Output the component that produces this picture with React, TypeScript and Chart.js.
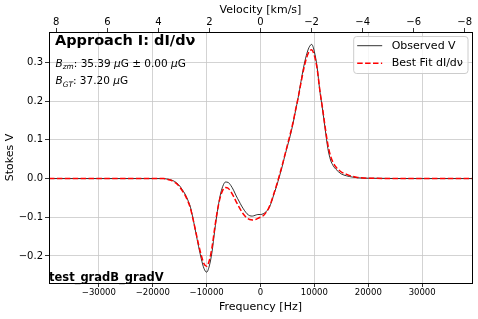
import React, { useEffect, useRef } from "react";
import { Chart, registerables } from "chart.js";

Chart.register(...registerables);

// ---------------- data ----------------
const FREQ_HZ = [
  -39250, -30000, -20000, -18000, -17500, -17000, -16500, -16000, -15500, -15000,
  -14500, -14000, -13500, -13000, -12500, -12000, -11500, -11000, -10500, -10000,
  -9500, -9000, -8500, -8000, -7500, -7000, -6500, -6000, -5500, -5000,
  -4500, -4000, -3500, -3000, -2500, -2000, -1500, -1000, -500, 0,
  500, 1000, 1500, 2000, 2500, 3000, 3500, 4000, 4500, 5000,
  5500, 6000, 6500, 7000, 7500, 8000, 8500, 9000, 9500, 10000,
  10500, 11000, 11500, 12000, 12500, 13000, 13500, 14000, 15000, 16000,
  17000, 18000, 20000, 30000, 39250,
];

const OBSERVED_V = [
  0, 0, 0, 0, -0.001, -0.002, -0.004, -0.007, -0.012, -0.019,
  -0.029, -0.040, -0.055, -0.074, -0.105, -0.140, -0.175, -0.207, -0.232, -0.242,
  -0.226, -0.190, -0.135, -0.085, -0.045, -0.020, -0.009, -0.010, -0.018, -0.030,
  -0.045, -0.058, -0.071, -0.082, -0.091, -0.096, -0.097, -0.095, -0.093, -0.093,
  -0.091, -0.086, -0.078, -0.062, -0.040, -0.019, 0.005, 0.030, 0.058, 0.084,
  0.110, 0.140, 0.175, 0.210, 0.250, 0.288, 0.318, 0.339, 0.347, 0.328,
  0.289, 0.228, 0.180, 0.128, 0.078, 0.048, 0.033, 0.024, 0.012, 0.007,
  0.004, 0.002, 0.001, 0, 0,
];

const FIT_V = [
  0, 0, 0, 0, -0.001, -0.003, -0.005, -0.009, -0.014, -0.022,
  -0.032, -0.043, -0.058, -0.077, -0.106, -0.138, -0.170, -0.198, -0.220, -0.227,
  -0.212, -0.178, -0.128, -0.083, -0.050, -0.030, -0.023, -0.025, -0.034, -0.046,
  -0.060, -0.073, -0.085, -0.095, -0.102, -0.106, -0.107, -0.106, -0.103, -0.100,
  -0.096, -0.088, -0.077, -0.060, -0.038, -0.016, 0.008, 0.033, 0.060, 0.087,
  0.114, 0.143, 0.177, 0.210, 0.247, 0.282, 0.310, 0.328, 0.333, 0.318,
  0.285, 0.230, 0.183, 0.133, 0.088, 0.058, 0.041, 0.030, 0.017, 0.011,
  0.006, 0.003, 0.001, 0, 0,
];

const SERIES_LABELS = ["Observed V", "Best Fit dI/d\u03bd"];
const FREQ_TICKS = [-30000, -20000, -10000, 0, 10000, 20000, 30000];
const VELOCITY_TICKS = [8, 6, 4, 2, 0, -2, -4, -6, -8];
const V_TICKS = [-0.2, -0.1, 0.0, 0.1, 0.2, 0.3];
const FREQ_MIN = -39250;
const FREQ_MAX = 39250;
const V_MIN = -0.27;
const V_MAX = 0.379;
const REST_FREQ_HZ = 1420405751.77;
const C_KMS = 299792.458;
const HZ_PER_KMS = REST_FREQ_HZ / C_KMS;

const TITLE_TEXT = "Approach I: dI/d\u03bd";
const B_ZM = "35.39";
const B_ZM_ERR = "0.00";
const B_GT = "37.20";
const RUN_LABEL = "test_gradB_gradV";

// ---------------- helpers ----------------
const FAM = '"DejaVu Sans", sans-serif';
const minus = (s: string) => s.replace("-", "\u2212");

type Seg = { t: string; font: string; dy?: number };
function drawRich(ctx: CanvasRenderingContext2D, x: number, y: number, segs: Seg[]) {
  let cx = x;
  for (const s of segs) {
    ctx.font = s.font;
    ctx.fillText(s.t, cx, y + (s.dy || 0));
    cx += ctx.measureText(s.t).width;
  }
}

const overlayPlugin = {
  id: "overlay",
  afterDraw(chart: any) {
    const { ctx, chartArea: a } = chart;
    ctx.save();
    // frame
    ctx.strokeStyle = "#000";
    ctx.lineWidth = 1;
    ctx.strokeRect(a.left + 0.5, a.top + 0.5, a.right - a.left, a.bottom - a.top);

    // annotations
    ctx.fillStyle = "#000";
    ctx.textBaseline = "alphabetic";
    ctx.textAlign = "left";
    ctx.font = `bold 14.5px ${FAM}`;
    ctx.fillText(TITLE_TEXT, a.left + 6, a.top + 12.8);

    const reg = `10.5px ${FAM}`;
    const ital = `italic 10.5px ${FAM}`;
    const sub = `italic 7.4px ${FAM}`;
    drawRich(ctx, a.left + 6.5, a.top + 34.7, [
      { t: "B", font: ital },
      { t: "zm", font: sub, dy: 2.4 },
      { t: `: ${B_ZM} `, font: reg },
      { t: "\u03bc", font: ital },
      { t: `G \u00b1 ${B_ZM_ERR} `, font: reg },
      { t: "\u03bc", font: ital },
      { t: "G", font: reg },
    ]);
    drawRich(ctx, a.left + 6.5, a.top + 52.3, [
      { t: "B", font: ital },
      { t: "GT", font: sub, dy: 2.4 },
      { t: `: ${B_GT} `, font: reg },
      { t: "\u03bc", font: ital },
      { t: "G", font: reg },
    ]);

    ctx.font = `bold 11.5px ${FAM}`;
    ctx.fillText(RUN_LABEL, a.left, a.bottom - 2);

    // legend
    const ds = chart.data.datasets;
    ctx.font = `11px ${FAM}`;
    let maxW = 0;
    for (const d of ds) maxW = Math.max(maxW, ctx.measureText(d.label).width);
    const boxR = a.right - 4;
    const boxT = a.top + 4.5;
    const handle = 25;
    const boxW = 3.5 + handle + 9.5 + maxW + 5;
    const boxL = boxR - boxW;
    const rowH = 17.6;
    const boxH = 37;
    ctx.beginPath();
    const r = 3;
    ctx.moveTo(boxL + r, boxT);
    ctx.lineTo(boxR - r, boxT);
    ctx.quadraticCurveTo(boxR, boxT, boxR, boxT + r);
    ctx.lineTo(boxR, boxT + boxH - r);
    ctx.quadraticCurveTo(boxR, boxT + boxH, boxR - r, boxT + boxH);
    ctx.lineTo(boxL + r, boxT + boxH);
    ctx.quadraticCurveTo(boxL, boxT + boxH, boxL, boxT + boxH - r);
    ctx.lineTo(boxL, boxT + r);
    ctx.quadraticCurveTo(boxL, boxT, boxL + r, boxT);
    ctx.closePath();
    ctx.fillStyle = "rgba(255,255,255,0.8)";
    ctx.fill();
    ctx.strokeStyle = "#cccccc";
    ctx.lineWidth = 1;
    ctx.stroke();

    ds.forEach((d: any, i: number) => {
      const y = boxT + 9.2 + i * rowH;
      ctx.beginPath();
      ctx.strokeStyle = d.borderColor;
      ctx.lineWidth = d.borderWidth;
      ctx.setLineDash(d.borderDash || []);
      ctx.moveTo(boxL + 3.5, y);
      ctx.lineTo(boxL + 3.5 + handle, y);
      ctx.stroke();
      ctx.setLineDash([]);
      ctx.fillStyle = "#000";
      ctx.textBaseline = "middle";
      ctx.font = `11px ${FAM}`;
      ctx.fillText(d.label, boxL + 3.5 + handle + 9.5, y);
    });
    ctx.restore();
  },
};

export default function App() {
  const ref = useRef<HTMLCanvasElement | null>(null);

  useEffect(() => {
    document.body.style.margin = "0";
    const canvas = ref.current;
    if (!canvas) return;

    const obs = FREQ_HZ.map((f, i) => ({ x: f, y: OBSERVED_V[i] }));
    const fit = FREQ_HZ.map((f, i) => ({ x: f, y: FIT_V[i] }));

    const tickFont = (size: number) => ({ family: FAM, size });

    const chart = new Chart(canvas, {
      type: "line",
      data: {
        datasets: [
          {
            label: SERIES_LABELS[0],
            data: obs,
            borderColor: "rgba(0,0,0,0.8)",
            borderWidth: 1,
            pointRadius: 0,
            cubicInterpolationMode: "monotone",
            fill: false,
            order: 1,
          },
          {
            label: SERIES_LABELS[1],
            data: fit,
            borderColor: "#ff0000",
            borderWidth: 1.5,
            borderDash: [5.5, 2.4],
            pointRadius: 0,
            cubicInterpolationMode: "monotone",
            fill: false,
            order: 0,
          },
        ],
      },
      options: {
        responsive: false,
        animation: false,
        events: [],
        layout: { padding: { left: 0, right: 6, top: 0, bottom: 0 } },
        plugins: { legend: { display: false }, tooltip: { enabled: false } },
        scales: {
          x: {
            type: "linear",
            position: "bottom",
            min: FREQ_MIN,
            max: FREQ_MAX,
            afterBuildTicks: (s: any) => {
              s.ticks = FREQ_TICKS.map((v) => ({ value: v }));
            },
            afterFit: (s: any) => {
              s.height = 36;
              s.paddingLeft = 0;
              s.paddingRight = 0;
            },
            grid: {
              color: "#c8c8c8",
              lineWidth: 0.8,
              tickColor: "#000",
              tickLength: 4,
              tickWidth: 0.8,
            },
            border: { display: false },
            ticks: {
              font: tickFont(8.5),
              color: "#000",
              padding: 1,
              maxRotation: 0,
              autoSkip: false,
              callback: (v: any) => minus(String(Math.round(Number(v)))),
            },
            title: {
              display: true,
              text: "Frequency [Hz]",
              font: { family: FAM, size: 11 },
              color: "#000",
              padding: { top: 0, bottom: 5 },
            },
          },
          x2: {
            type: "linear",
            position: "top",
            reverse: true,
            min: -FREQ_MAX / HZ_PER_KMS,
            max: -FREQ_MIN / HZ_PER_KMS,
            afterBuildTicks: (s: any) => {
              s.ticks = VELOCITY_TICKS.map((v) => ({ value: v }));
            },
            afterFit: (s: any) => {
              s.height = 32;
              s.paddingLeft = 0;
              s.paddingRight = 0;
            },
            grid: {
              drawOnChartArea: false,
              tickColor: "#000",
              tickLength: 4,
              tickWidth: 0.8,
            },
            border: { display: false },
            ticks: {
              font: tickFont(10),
              color: "#000",
              padding: 0,
              maxRotation: 0,
              autoSkip: false,
              callback: (v: any) => minus(String(Math.round(Number(v)))),
            },
            title: {
              display: true,
              text: "Velocity [km/s]",
              font: { family: FAM, size: 11 },
              color: "#000",
              padding: { top: 4, bottom: 0 },
            },
          },
          y: {
            type: "linear",
            position: "left",
            min: V_MIN,
            max: V_MAX,
            afterBuildTicks: (s: any) => {
              s.ticks = V_TICKS.map((v) => ({ value: v }));
            },
            afterFit: (s: any) => {
              s.width = 49;
              s.paddingTop = 0;
              s.paddingBottom = 0;
            },
            grid: {
              color: "#c8c8c8",
              lineWidth: 0.8,
              tickColor: "#000",
              tickLength: 4,
              tickWidth: 0.8,
            },
            border: { display: false },
            ticks: {
              font: tickFont(10),
              color: "#000",
              padding: 2,
              autoSkip: false,
              callback: (v: any) => minus(Number(v).toFixed(1)),
            },
            title: {
              display: true,
              text: "Stokes V",
              font: { family: FAM, size: 11 },
              color: "#000",
              padding: { top: 4, bottom: 0 },
            },
          },
        },
      } as any,
      plugins: [overlayPlugin],
    });

    return () => chart.destroy();
  }, []);

  return (
    <div style={{ width: 478, height: 319 }}>
      <canvas ref={ref} width={478} height={319} style={{ display: "block", width: 478, height: 319 }} />
    </div>
  );
}
